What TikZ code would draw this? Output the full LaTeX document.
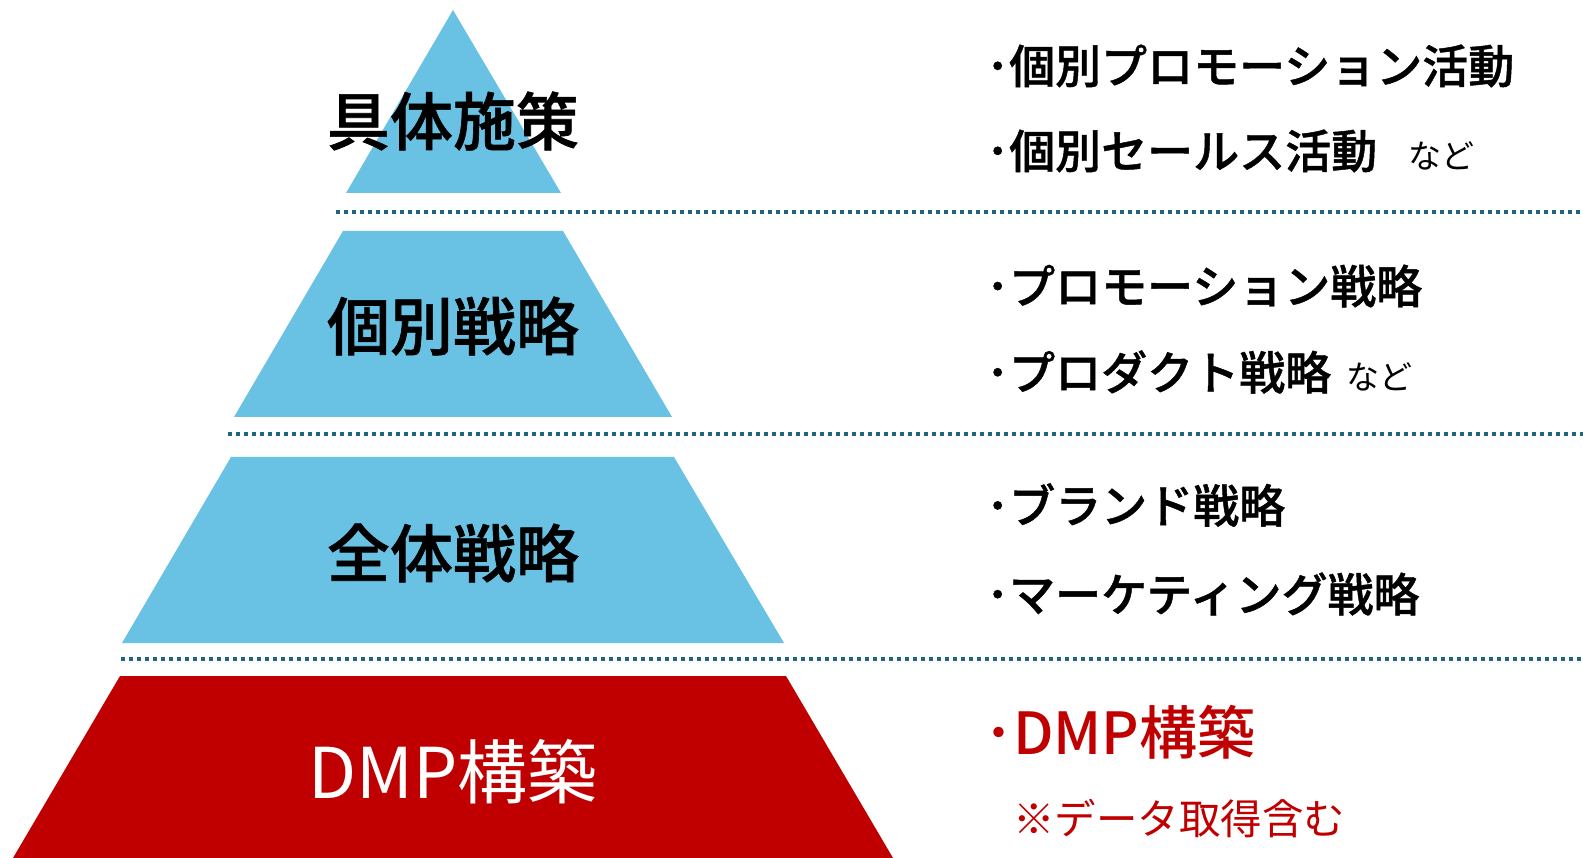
\documentclass[tikz,border=0pt]{standalone}
\usepackage{fontspec}
\setmainfont{Noto Sans CJK JP}[BoldFont={Noto Sans CJK JP Medium}, BoldFeatures={FakeBold=1}]
\newfontfamily\medfont{Noto Sans CJK JP Medium}
\definecolor{bandblue}{HTML}{69C2E4}
\definecolor{bandred}{HTML}{C00000}
\definecolor{dotteal}{HTML}{1E6584}

\begin{document}
\begin{tikzpicture}[x=1pt, y=-1pt,
            band/.style={fill=bandblue, draw=none},
            level/.style={inner sep=0pt, font=\bfseries\fontsize{63}{63}\selectfont},
            item/.style={anchor=west, inner sep=0pt, font=\bfseries\fontsize{46}{46}\selectfont},
            sep/.style={draw=dotteal, line width=4pt, dash pattern=on 4pt off 4pt}
            ]
            \useasboundingbox (0,0) rectangle (1583,858);

            % Pyramid bands
            \fill[band] (453,10) -- (561,193) -- (346,193) -- cycle;
            \fill[band] (343,231) -- (563,231) -- (672,417) -- (234,417) -- cycle;
            \fill[band] (231,457) -- (674,457) -- (784,643) -- (122,643) -- cycle;
            \fill[bandred] (120,676) -- (786,676) -- (893,858) -- (13,858) -- cycle;

            % Separators
            \draw[sep] (336,212) -- (1583,212);
            \draw[sep] (228,434) -- (1583,434);
            \draw[sep] (121,659) -- (1583,659);

            % Levels
            \node[level] (measures) at (453,121) {具体施策};
            \node[level] (individual) at (453,326) {個別戦略};
            \node[level] (overall) at (453,553) {全体戦略};
            \node[level, text=white, font=\fontsize{70}{70}\selectfont] (dmp) at (453,772) {DMP構築};

            % Items
            \node[item] (promoact) at (986,66) {･個別プロモーション活動};
            \node[item] (salesact) at (986,151) {･個別セールス活動\kern31pt{\mdseries\fontsize{33}{33}\selectfont など}};
            \node[item] (promostr) at (986,286) {･プロモーション戦略};
            \node[item] (productstr) at (986,372) {･プロダクト戦略\kern15pt{\mdseries\fontsize{33}{33}\selectfont など}};
            \node[item] (brandstr) at (986,505) {･ブランド戦略};
            \node[item] (marketstr) at (986,594) {･マーケティング戦略};
            \node[item, text=bandred, font=\medfont\fontsize{58}{58}\selectfont] (dmpitem) at (984,732) {･DMP構築};
            \node[item, text=bandred, font=\fontsize{41.5}{41.5}\selectfont] (datanote) at (1013,818) {※データ取得含む};

        \end{tikzpicture}
\end{document}
